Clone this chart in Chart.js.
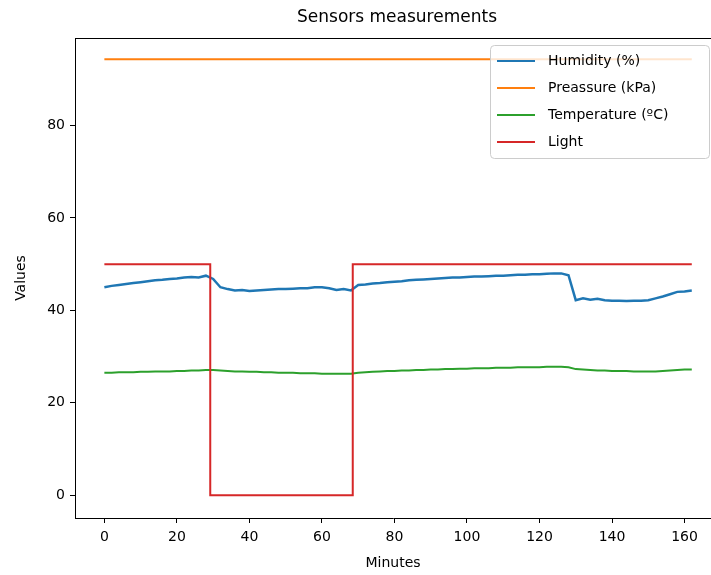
<!DOCTYPE html>
<html>
<head>
<meta charset="utf-8">
<script src="https://cdn.jsdelivr.net/npm/chart.js@4.4.0/dist/chart.umd.min.js"></script>
<style>
  html, body { margin: 0; padding: 0; background: #fff; overflow: hidden; }
  #wrap { width: 711px; height: 575px; }
</style>
</head>
<body>
<div id="wrap"><canvas id="sensorChart" width="711" height="575"></canvas></div>
<script>
// Sampled minutes for humidity / temperature
const minutes = [0, 2, 4, 6, 8, 10, 12, 14, 16, 18, 20, 22, 24, 26, 28, 30, 32, 34, 36, 38,
  40, 42, 44, 46, 48, 50, 52, 54, 56, 58, 60, 62, 64, 66, 68, 70, 72, 74, 76, 78,
  80, 82, 84, 86, 88, 90, 92, 94, 96, 98, 100, 102, 104, 106, 108, 110, 112, 114, 116, 118,
  120, 122, 124, 126, 128, 130, 132, 134, 136, 138, 140, 142, 144, 146, 148, 150, 152, 154, 156, 158,
  160, 162];

const humidity = [45.0, 45.3, 45.5, 45.7, 45.9, 46.1, 46.3, 46.5, 46.6, 46.8, 46.9, 47.1, 47.2, 47.1, 47.5, 46.8, 45.0, 44.6, 44.3, 44.4,
  44.2, 44.3, 44.4, 44.5, 44.6, 44.6, 44.7, 44.8, 44.8, 45.0, 45.0, 44.8, 44.4, 44.6, 44.3, 45.5, 45.6, 45.8, 45.9, 46.1,
  46.2, 46.3, 46.5, 46.6, 46.7, 46.8, 46.9, 47.0, 47.1, 47.1, 47.2, 47.3, 47.3, 47.4, 47.5, 47.5, 47.6, 47.7, 47.7, 47.8,
  47.8, 47.9, 48.0, 48.0, 47.6, 42.2, 42.6, 42.3, 42.5, 42.2, 42.1, 42.1, 42.0, 42.1, 42.1, 42.2, 42.6, 43.0, 43.5, 44.0,
  44.1, 44.3];

const temperature = [26.5, 26.5, 26.6, 26.6, 26.6, 26.7, 26.7, 26.8, 26.8, 26.8, 26.9, 26.9, 27.0, 27.0, 27.1, 27.1, 27.0, 26.9, 26.8, 26.8,
  26.7, 26.7, 26.6, 26.6, 26.5, 26.5, 26.5, 26.4, 26.4, 26.4, 26.3, 26.3, 26.3, 26.3, 26.3, 26.5, 26.6, 26.7, 26.8, 26.9,
  26.9, 27.0, 27.0, 27.1, 27.1, 27.2, 27.2, 27.3, 27.3, 27.4, 27.4, 27.5, 27.5, 27.5, 27.6, 27.6, 27.6, 27.7, 27.7, 27.7,
  27.7, 27.8, 27.8, 27.8, 27.7, 27.3, 27.2, 27.1, 27.0, 27.0, 26.9, 26.9, 26.9, 26.8, 26.8, 26.8, 26.8, 26.9, 27.0, 27.1,
  27.2, 27.2];

const pressureMinutes = [0, 40, 80, 120, 162];
const pressure = [94.3, 94.3, 94.3, 94.3, 94.3];

const lightMinutes = [0, 29.2, 29.2, 68.5, 68.5, 162];
const light = [50, 50, 0, 0, 50, 50];

const xTicks = [0, 20, 40, 60, 80, 100, 120, 140, 160];
const yTicks = [0, 20, 40, 60, 80];

const FONT = "'DejaVu Sans', sans-serif";

function toPoints(xs, ys) {
  return xs.map((x, i) => ({ x: x, y: ys[i] }));
}

// Title centred over the plot area plus the top spine
const frameAndTitle = {
  id: "frameAndTitle",
  afterDraw(chart) {
    const { ctx, chartArea } = chart;
    ctx.save();
    ctx.strokeStyle = "#000";
    ctx.lineWidth = 1;
    ctx.beginPath();
    ctx.moveTo(chartArea.left, chartArea.top + 0.5);
    ctx.lineTo(chartArea.right, chartArea.top + 0.5);
    ctx.stroke();
    ctx.fillStyle = "#000";
    ctx.font = "17px " + FONT;
    ctx.textAlign = "center";
    ctx.textBaseline = "middle";
    ctx.fillText("Sensors measurements", 397, 18);
    ctx.restore();
  },
};

// Legend box inside the axes, upper right
const innerLegend = {
  id: "innerLegend",
  afterDatasetsDraw(chart) {
    const { ctx } = chart;
    const x0 = 490, y0 = 45, w = 219, h = 113, r = 4;
    ctx.save();
    ctx.beginPath();
    ctx.roundRect(x0 + 0.5, y0 + 0.5, w, h, r);
    ctx.fillStyle = "rgba(255,255,255,0.8)";
    ctx.fill();
    ctx.strokeStyle = "#cccccc";
    ctx.lineWidth = 1;
    ctx.stroke();
    ctx.font = "14px " + FONT;
    ctx.textBaseline = "middle";
    ctx.textAlign = "left";
    chart.data.datasets.forEach((ds, i) => {
      const y = 61 + i * 27;
      ctx.strokeStyle = ds.borderColor;
      ctx.lineWidth = 2;
      ctx.beginPath();
      ctx.moveTo(497, y);
      ctx.lineTo(535, y);
      ctx.stroke();
      ctx.fillStyle = "#000";
      ctx.fillText(ds.label, 548, y);
    });
    ctx.restore();
  },
};

const ctx = document.getElementById("sensorChart").getContext("2d");
new Chart(ctx, {
  type: "line",
  data: {
    datasets: [
      {
        label: "Humidity (%)",
        data: toPoints(minutes, humidity),
        borderColor: "#1f77b4",
        borderWidth: 2.5,
        order: 3,
      },
      {
        label: "Preassure (kPa)",
        data: toPoints(pressureMinutes, pressure),
        borderColor: "#ff7f0e",
        borderWidth: 2,
        order: 2,
      },
      {
        label: "Temperature (ºC)",
        data: toPoints(minutes, temperature),
        borderColor: "#2ca02c",
        borderWidth: 2,
        order: 1,
      },
      {
        label: "Light",
        data: toPoints(lightMinutes, light),
        borderColor: "#d62728",
        borderWidth: 2,
        order: 0,
      },
    ],
  },
  options: {
    responsive: false,
    animation: false,
    layout: { padding: { top: 38, left: 0, right: 0, bottom: 0 } },
    elements: { point: { radius: 0 }, line: { tension: 0, fill: false } },
    plugins: {
      legend: { display: false },
      tooltip: { enabled: false },
      title: { display: false },
    },
    scales: {
      x: {
        type: "linear",
        min: -8.1,
        max: 167.3,
        afterFit: (scale) => { scale.height = 57; },
        afterBuildTicks: (scale) => { scale.ticks = xTicks.map((v) => ({ value: v })); },
        ticks: { color: "#000", font: { family: FONT, size: 14 }, padding: 6, maxRotation: 0 },
        grid: { drawOnChartArea: false, drawTicks: true, tickLength: 5, color: "#000" },
        border: { display: true, color: "#000", width: 1 },
        title: { display: true, text: "Minutes", color: "#000", font: { family: FONT, size: 14 }, padding: { top: 4, bottom: 3 } },
      },
      y: {
        type: "linear",
        min: -4.9,
        max: 98.9,
        afterFit: (scale) => { scale.width = 75; },
        afterBuildTicks: (scale) => { scale.ticks = yTicks.map((v) => ({ value: v })); },
        ticks: { color: "#000", font: { family: FONT, size: 14 }, padding: 5 },
        grid: { drawOnChartArea: false, drawTicks: true, tickLength: 5, color: "#000" },
        border: { display: true, color: "#000", width: 1 },
        title: { display: true, text: "Values", color: "#000", font: { family: FONT, size: 14 }, padding: { top: 13, bottom: 0 } },
      },
    },
  },
  plugins: [frameAndTitle, innerLegend],
});
</script>
</body>
</html>
